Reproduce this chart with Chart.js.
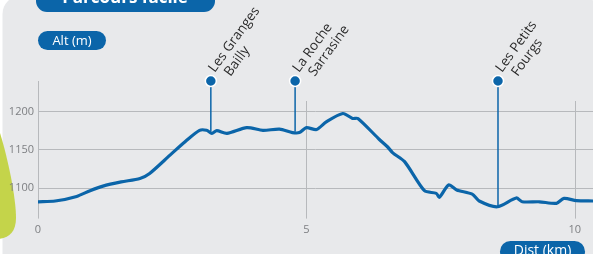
<!DOCTYPE html>
<html><head><meta charset="utf-8">
<script src="https://cdn.jsdelivr.net/npm/chart.js@4.4.1/dist/chart.umd.min.js"></script>
<style>html,body{margin:0;padding:0;background:#fff;}#wrap{width:593px;height:254px;position:relative;}</style>
</head><body><div id="wrap"><canvas id="c" width="593" height="254"></canvas></div>
<script>
const titleText = "Parcours facile";
const yAxisTitle = "Alt (m)";
const xAxisTitle = "Dist (km)";
const distKm = [0, 0.32, 0.72, 0.97, 1.21, 1.55, 1.9, 2.08, 2.46, 2.77, 3.01, 3.14, 3.24, 3.33, 3.52, 3.89, 4.19, 4.5, 4.74, 4.87, 5.0, 5.19, 5.37, 5.68, 5.86, 5.96, 6.36, 6.51, 6.61, 6.83, 7.2, 7.42, 7.48, 7.65, 7.8, 8.09, 8.22, 8.56, 8.91, 9.02, 9.34, 9.66, 9.8, 10.03, 10.34];
const altM = [1082, 1083, 1089, 1096.5, 1102.5, 1108, 1112.5, 1119, 1143, 1162.5, 1175.5, 1175.5, 1171.5, 1175, 1171.5, 1179, 1175.5, 1177, 1172.5, 1172.5, 1179, 1176.5, 1186.5, 1197.5, 1191, 1191, 1163.5, 1154, 1146, 1134.5, 1096.5, 1093, 1088, 1104, 1097.5, 1092, 1083, 1075.5, 1087, 1082, 1082, 1080, 1086.5, 1083.5, 1083];
const xTicks = [0, 5, 10];
const xTickLabels = ["0", "5", "10"];
const yTicks = [1100, 1150, 1200];
const yTickLabels = ["1100", "1150", "1200"];
const waypointNames = [["Les Granges", "Bailly"], ["La Roche", "Sarrasine"], ["Les Petits", "Fourgs"]];
const waypointKm = [3.22, 4.79, 8.57];
const waypointAlt = [1174, 1174, 1075];

const BLUE = "#0b65a9";
const PANEL = "#e8e9eb";
const GRID = "#b7b9bc";
const FONT = "'Open Sans', 'DejaVu Sans', sans-serif";

function roundRect(ctx, x, y, w, h, r) {
  ctx.beginPath();
  ctx.moveTo(x + r, y);
  ctx.lineTo(x + w - r, y);
  ctx.arcTo(x + w, y, x + w, y + r, r);
  ctx.lineTo(x + w, y + h - r);
  ctx.arcTo(x + w, y + h, x + w - r, y + h, r);
  ctx.lineTo(x + r, y + h);
  ctx.arcTo(x, y + h, x, y + h - r, r);
  ctx.lineTo(x, y + r);
  ctx.arcTo(x, y, x + r, y, r);
  ctx.closePath();
}

const decor = {
  id: "decor",
  beforeDraw(chart) {
    const ctx = chart.ctx;
    ctx.save();
    ctx.fillStyle = "#fff";
    ctx.fillRect(0, 0, chart.width, chart.height);
    ctx.fillStyle = PANEL;
    ctx.beginPath();
    const px = 2.5, py = -4, r = 18;
    ctx.moveTo(px + r, py);
    ctx.lineTo(593 - 6, py);
    ctx.arcTo(593, py, 593, py + 6, 6);
    ctx.lineTo(593, 260);
    ctx.lineTo(px, 260);
    ctx.lineTo(px, py + r);
    ctx.arcTo(px, py, px + r, py, r);
    ctx.closePath();
    ctx.fill();
    ctx.fillStyle = "#c4d44a";
    ctx.beginPath();
    ctx.moveTo(-2, 127);
    ctx.bezierCurveTo(6, 150, 16, 195, 16, 218);
    ctx.bezierCurveTo(16, 232, 9, 238, -2, 239);
    ctx.closePath();
    ctx.fill();
    ctx.fillStyle = BLUE;
    roundRect(ctx, 36, -16, 179, 28, 11);
    ctx.fill();
    ctx.fillStyle = "#fff";
    ctx.font = "bold 17px " + FONT;
    ctx.textAlign = "center";
    ctx.textBaseline = "alphabetic";
    ctx.fillText(titleText, 125, 3);
    ctx.fillStyle = BLUE;
    roundRect(ctx, 38, 31, 68, 19, 9.5);
    ctx.fill();
    ctx.fillStyle = "#fff";
    ctx.font = "13px " + FONT;
    ctx.textBaseline = "middle";
    ctx.fillText(yAxisTitle, 72, 41);
    ctx.restore();
  },
  beforeDatasetsDraw(chart) {
    const ctx = chart.ctx;
    const xs = chart.scales.x;
    const a = chart.chartArea;
    ctx.save();
    ctx.strokeStyle = GRID;
    ctx.lineWidth = 1;
    xTicks.forEach((v, i) => {
      const x = Math.round(xs.getPixelForValue(v)) + 0.5;
      ctx.beginPath();
      ctx.moveTo(x, i === 0 ? a.top : 101);
      ctx.lineTo(x, a.bottom);
      ctx.stroke();
    });
    ctx.restore();
  },
  afterDatasetsDraw(chart) {
    const ctx = chart.ctx;
    const xs = chart.scales.x, ys = chart.scales.y;
    ctx.save();
    waypointKm.forEach((km, i) => {
      const x = xs.getPixelForValue(km);
      const yb = ys.getPixelForValue(waypointAlt[i]);
      const cy = 81;
      ctx.strokeStyle = BLUE;
      ctx.lineWidth = 1.5;
      ctx.beginPath();
      ctx.moveTo(x, cy);
      ctx.lineTo(x, yb);
      ctx.stroke();
      ctx.beginPath();
      ctx.arc(x, cy, 5.5, 0, Math.PI * 2);
      ctx.fillStyle = BLUE;
      ctx.fill();
      ctx.strokeStyle = "#fff";
      ctx.lineWidth = 1.5;
      ctx.stroke();
      ctx.save();
      ctx.translate(x + 4, cy - 8);
      ctx.rotate(-54 * Math.PI / 180);
      ctx.fillStyle = "#2b2b2b";
      ctx.font = "13.5px " + FONT;
      ctx.textAlign = "left";
      ctx.textBaseline = "alphabetic";
      ctx.fillText(waypointNames[i][0], 0, 0);
      ctx.fillText(waypointNames[i][1], 6, 15);
      ctx.restore();
    });
    ctx.restore();
  },
  afterDraw(chart) {
    const ctx = chart.ctx;
    ctx.save();
    ctx.fillStyle = BLUE;
    roundRect(ctx, 500, 241, 85, 21, 10.5);
    ctx.fill();
    ctx.fillStyle = "#fff";
    ctx.font = "14px " + FONT;
    ctx.textAlign = "center";
    ctx.textBaseline = "middle";
    ctx.fillText(xAxisTitle, 542.5, 251);
    ctx.restore();
  }
};

new Chart(document.getElementById("c"), {
  type: "line",
  data: {
    datasets: [{
      data: distKm.map((d, i) => ({ x: d, y: altM[i] })),
      borderColor: BLUE,
      borderWidth: 3.2,
      pointRadius: 0,
      tension: 0.25,
      fill: false,
      borderCapStyle: "round",
      borderJoinStyle: "round"
    }]
  },
  options: {
    responsive: false,
    animation: false,
    events: [],
    layout: { padding: { top: 81, right: 0, left: 0, bottom: 0 } },
    plugins: { legend: { display: false }, tooltip: { enabled: false } },
    scales: {
      x: {
        type: "linear",
        min: 0,
        max: 10.34,
        afterBuildTicks(s) { s.ticks = xTicks.map(v => ({ value: v })); },
        afterFit(s) { s.height = 35.4; },
        grid: { display: false, drawTicks: false },
        border: { display: false },
        ticks: {
          color: "#7d7f82",
          font: { family: FONT, size: 11 },
          padding: 5,
          maxRotation: 0,
          autoSkip: false,
          callback: (v) => xTickLabels[xTicks.indexOf(v)]
        }
      },
      y: {
        min: 1060,
        max: 1240,
        afterBuildTicks(s) { s.ticks = yTicks.map(v => ({ value: v })); },
        afterFit(s) { s.width = 38; },
        grid: { color: GRID, drawTicks: false, lineWidth: 1 },
        border: { display: false },
        ticks: {
          color: "#7d7f82",
          font: { family: FONT, size: 11 },
          padding: 4,
          autoSkip: false,
          callback: (v) => yTickLabels[yTicks.indexOf(v)]
        }
      }
    }
  },
  plugins: [decor]
});
</script>
</body></html>
